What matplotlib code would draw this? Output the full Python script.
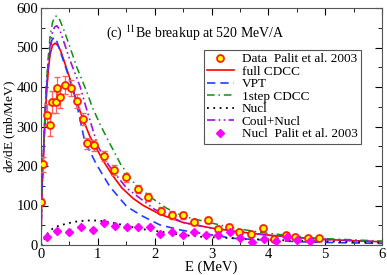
import matplotlib.pyplot as plt
import numpy as np
from matplotlib.ticker import MultipleLocator

plt.rcParams['font.family'] = ['Liberation Serif', 'DejaVu Serif']
plt.rcParams['mathtext.fontset'] = 'stix'

# experimental data, Palit et al. 2003
data_E = [0.0, 0.04, 0.10, 0.16, 0.20, 0.26, 0.29, 0.34, 0.42, 0.52, 0.64, 0.74,
          0.81, 0.93, 1.10, 1.29, 1.49, 1.70, 1.89, 2.11, 2.30, 2.49, 2.69, 2.93,
          3.12, 3.30, 3.49, 3.69, 3.90, 4.10, 4.31, 4.47, 4.70, 4.90]
data_v = [110, 204, 329, 305, 361, 362, 397, 374, 405, 397, 365, 318,
          257, 253, 225, 190, 171, 141, 122, 87, 76, 75, 59, 63,
          41, 46, 34, 28, 42, 15, 26, 20, 17, 17]
data_err = [8, 18, 28, 28, 28, 28, 28, 28, 22, 20, 18, 15,
            15, 14, 12, 12, 11, 10, 10, 9, 9, 9, 8, 7,
            6, 6, 5, 5, 5, 4, 4, 4, 3, 3]

# nuclear part, Palit et al. 2003
nucl_E = [0.10, 0.29, 0.49, 0.70, 0.91, 1.11, 1.31, 1.51, 1.71, 1.91, 2.10, 2.30,
          2.49, 2.69, 2.91, 3.12, 3.32, 3.51, 3.72, 3.92, 4.13, 4.32, 4.51, 4.73]
nucl_v = [19, 36, 34, 45, 38, 55, 49, 46, 46, 45, 27, 32,
          25, 32, 25, 25, 34, 17, 8, 14, 11, 19, 13, 10]

# full CDCC
full_E = [0, 0.01, 0.02, 0.04, 0.06, 0.08, 0.10, 0.13, 0.16, 0.20, 0.25, 0.30, 0.35,
          0.42, 0.50, 0.63, 0.74, 0.86, 1.0, 1.1, 1.25, 1.42, 1.62, 1.8, 2.09, 2.5,
          3.0, 3.5, 4.0, 4.5, 5.0, 5.5, 6.0]
full_v = [0, 100, 150, 212, 280, 340, 390, 445, 482, 505, 511, 505, 490,
          460, 425, 362, 318, 275, 238, 212, 178, 145, 118, 100, 78, 57,
          43, 33, 25, 19, 14, 11, 8]

# VPT
vpt_E = [0, 0.01, 0.02, 0.04, 0.06, 0.08, 0.10, 0.13, 0.16, 0.19, 0.23, 0.28, 0.35,
         0.45, 0.60, 0.69, 0.77, 0.98, 1.21, 1.51, 1.8, 2.09, 2.45, 2.8, 3.38,
         4.0, 4.56, 5.2, 6.0]
vpt_v = [0, 105, 155, 220, 290, 350, 400, 455, 495, 518, 526, 515, 485,
         443, 375, 316, 262, 203, 148, 97, 72, 51, 38, 30, 17,
         12, 8, 6, 4]

# 1step CDCC
one_E = [0, 0.01, 0.02, 0.04, 0.06, 0.08, 0.10, 0.13, 0.16, 0.20, 0.24, 0.28, 0.33,
         0.40, 0.50, 0.63, 0.80, 0.90, 1.04, 1.21, 1.40, 1.62, 1.92, 2.21, 2.5,
         2.9, 3.38, 3.97, 4.85, 6.0]
one_v = [0, 105, 160, 225, 300, 365, 420, 480, 528, 562, 578, 580, 570,
         545, 505, 450, 390, 350, 305, 257, 205, 160, 122, 93, 73,
         59, 43, 30, 17, 10]

# Nucl
nuc_E = [0, 0.03, 0.09, 0.16, 0.21, 0.30, 0.45, 0.60, 0.80, 1.0, 1.2, 1.4, 1.74,
         2.09, 2.45, 2.8, 3.4, 4.0, 5.0, 6.0]
nuc_v = [0, 5, 25, 36, 42, 48, 54, 59, 62, 62, 58, 52, 41,
         34, 26, 21, 17, 13, 9, 6]

# Coul+Nucl
cn_E = [0, 0.01, 0.02, 0.04, 0.06, 0.08, 0.10, 0.13, 0.16, 0.20, 0.24, 0.28, 0.33,
        0.40, 0.51, 0.69, 0.80, 1.0, 1.2, 1.5, 2.0, 2.5, 3.0, 3.5, 4.0, 4.5,
        5.0, 5.5, 6.0]
cn_v = [0, 105, 158, 222, 295, 355, 410, 465, 505, 538, 552, 555, 545,
        515, 468, 400, 345, 250, 200, 145, 90, 57, 43, 33, 25, 19,
        14, 11, 8]

fig = plt.figure(figsize=(3.87, 2.75), dpi=100)
ax = fig.add_axes([41/387, 30/275, 341/387, 237/275])

ax.plot(full_E, full_v, color='#ff0000', lw=1.2, label='full CDCC')
ax.plot(vpt_E, vpt_v, color='#1f3fff', lw=1.2, ls=(0, (5, 3)), label='VPT')
ax.plot(one_E, one_v, color='#109010', lw=1.1, ls=(0, (5, 2.5, 1, 2.5)), label='1step CDCC')
ax.plot(nuc_E, nuc_v, color='black', lw=1.3, ls=(0, (1, 2.5)), label='Nucl')
ax.plot(cn_E, cn_v, color='#a010e0', lw=1.2, ls=(0, (5, 2, 1, 2, 1, 2)), label='Coul+Nucl')

ax.errorbar(data_E, data_v, yerr=data_err, fmt='none', ecolor='#ff6060',
            elinewidth=0.9, capsize=2.5, zorder=4)
ax.plot(data_E, data_v, 'o', ms=5, mfc='#ffff00', mec='#ff2000', mew=1.3,
        ls='none', zorder=5, label='Data  Palit et al. 2003')
ax.plot(nucl_E, nucl_v, 'D', ms=3.8, color='#ff00ff', ls='none', zorder=5,
        label='Nucl  Palit et al. 2003')

ax.set_xlim(0, 6)
ax.set_ylim(0, 600)
ax.xaxis.set_major_locator(MultipleLocator(1))
ax.xaxis.set_minor_locator(MultipleLocator(0.5))
ax.yaxis.set_major_locator(MultipleLocator(100))
ax.yaxis.set_minor_locator(MultipleLocator(50))
ax.tick_params(which='both', direction='in', top=True, right=True, labelsize=10.5, pad=2)
ax.tick_params(which='major', length=5)
ax.tick_params(which='minor', length=3)
for s in ax.spines.values():
    s.set_color('#555555')

ax.set_xlabel('E (MeV)', fontsize=10.5, labelpad=0)
ax.set_ylabel(r'd$\sigma$/dE (mb/MeV)', fontsize=9.5)
ax.yaxis.set_label_coords(-0.068, 0.5)
ax.text(0.19, 0.895, r'(c) $^{11}$Be breakup at 520 MeV/A', transform=ax.transAxes,
        fontsize=10, va='center')

h, l = ax.get_legend_handles_labels()
order = [5, 0, 1, 2, 3, 4, 6]
leg = ax.legend([h[i] for i in order], [l[i] for i in order],
                loc='upper left', bbox_to_anchor=(0.478, 0.823), fontsize=9.5,
                frameon=True, fancybox=False, edgecolor='#555555', framealpha=1,
                handlelength=2.0, handletextpad=0.6, labelspacing=0.02,
                borderpad=0.25, borderaxespad=0)
leg.get_frame().set_linewidth(0.8)

fig.savefig('out.png', dpi=100)
